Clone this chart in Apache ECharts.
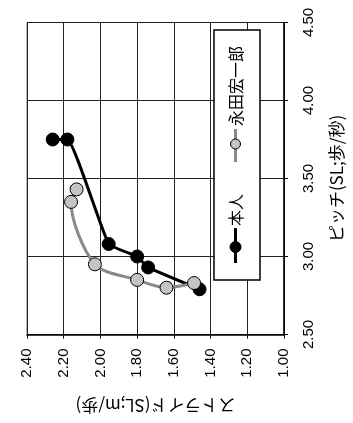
<!DOCTYPE html>
<html><head><meta charset="utf-8">
<script src="https://cdn.jsdelivr.net/npm/echarts@6/dist/echarts.min.js"></script>
<style>html,body{margin:0;padding:0;background:#fff;}#c{width:353px;height:423px;}</style>
</head><body><div id="c"></div>
<script>
// 本人 (self)
const selfStride = [2.26, 2.18, 1.955, 1.80, 1.74, 1.46];
const selfPitch  = [3.75, 3.75, 3.08, 3.00, 2.93, 2.79];
// 永田宏一郎
const nagataStride = [2.13, 2.16, 2.03, 1.80, 1.64, 1.49];
const nagataPitch  = [3.43, 3.35, 2.95, 2.85, 2.80, 2.83];
const seriesNames = ['本人', '永田宏一郎'];
const strideTicks = [1.0, 1.2, 1.4, 1.6, 1.8, 2.0, 2.2, 2.4];
const pitchTicks = [2.5, 3.0, 3.5, 4.0, 4.5];
const strideName = 'ストライド(SL;m/歩)';
const pitchName = 'ピッチ(SL;歩/秒)';

const FONT = '"Liberation Sans", Arial, "Noto Sans CJK JP", sans-serif';
const JFONT = '"Noto Sans CJK JP", sans-serif';

const chart = echarts.init(document.getElementById('c'), null, {renderer: 'canvas'});
const pair = (xs, ys) => xs.map((x, i) => [x, ys[i]]);

chart.setOption({
  animation: false,
  grid: {left: 27, right: 68, top: 22.5, bottom: 88.5, show: true, borderColor: '#777', borderWidth: 1},
  xAxis: {
    type: 'value', inverse: true,
    min: strideTicks[0], max: strideTicks[strideTicks.length - 1], interval: 0.2,
    position: 'bottom',
    axisLine: {show: true, onZero: false, lineStyle: {color: '#000', width: 1.5}},
    axisTick: {show: true, length: 4, lineStyle: {color: '#000'}},
    splitLine: {show: true, lineStyle: {color: '#222', width: 1}},
    axisLabel: {rotate: 90, margin: 14, color: '#000', fontSize: 15, fontFamily: FONT,
      formatter: v => v.toFixed(2)},
    name: strideName, nameLocation: 'middle', nameRotate: 180, nameGap: 62,
    nameTextStyle: {color: '#000', fontSize: 17, fontFamily: JFONT}
  },
  yAxis: {
    type: 'value',
    min: pitchTicks[0], max: pitchTicks[pitchTicks.length - 1], interval: 0.5,
    position: 'right',
    axisLine: {show: true, onZero: false, lineStyle: {color: '#000', width: 1.5}},
    axisTick: {show: true, length: 4, lineStyle: {color: '#000'}},
    splitLine: {show: true, lineStyle: {color: '#222', width: 1}},
    axisLabel: {rotate: 90, margin: 17, color: '#000', fontSize: 15, fontFamily: FONT,
      formatter: v => v.toFixed(2)},
    name: pitchName, nameLocation: 'middle', nameRotate: 90, nameGap: 44,
    nameTextStyle: {color: '#000', fontSize: 17, fontFamily: JFONT}
  },
  series: [
    {
      name: seriesNames[0], type: 'line', smooth: 0.12,
      data: pair(selfStride, selfPitch),
      symbol: 'circle', symbolSize: 13,
      lineStyle: {color: '#000', width: 3},
      itemStyle: {color: '#000', borderColor: '#000', borderWidth: 1},
      z: 2
    },
    {
      name: seriesNames[1], type: 'line', smooth: 0.3,
      data: pair(nagataStride, nagataPitch),
      symbol: 'circle', symbolSize: 13,
      lineStyle: {color: '#8a8a8a', width: 3},
      itemStyle: {color: '#c4c4c4', borderColor: '#000', borderWidth: 1},
      z: 3
    }
  ],
  graphic: [
    {type: 'rect', shape: {x: 214, y: 30, width: 46, height: 250},
      style: {fill: '#fff', stroke: '#000', lineWidth: 1.5}, z: 10},
    {type: 'line', shape: {x1: 235.5, y1: 228, x2: 235.5, y2: 263},
      style: {stroke: '#000', lineWidth: 3}, z: 11},
    {type: 'circle', shape: {cx: 235.5, cy: 247, r: 5.5},
      style: {fill: '#000', stroke: '#000', lineWidth: 1}, z: 12},
    {type: 'text', x: 235.5, y: 210, rotation: Math.PI / 2, z: 12,
      style: {text: seriesNames[0], align: 'center', verticalAlign: 'middle',
        fill: '#000', font: '16px ' + JFONT}},
    {type: 'line', shape: {x1: 235.5, y1: 129, x2: 235.5, y2: 162},
      style: {stroke: '#8a8a8a', lineWidth: 3}, z: 11},
    {type: 'circle', shape: {cx: 235.5, cy: 144, r: 5},
      style: {fill: '#c4c4c4', stroke: '#000', lineWidth: 1}, z: 12},
    {type: 'text', x: 235.5, y: 86, rotation: Math.PI / 2, z: 12,
      style: {text: seriesNames[1], align: 'center', verticalAlign: 'middle',
        fill: '#000', font: '16px ' + JFONT}}
  ]
});
</script></body></html>
